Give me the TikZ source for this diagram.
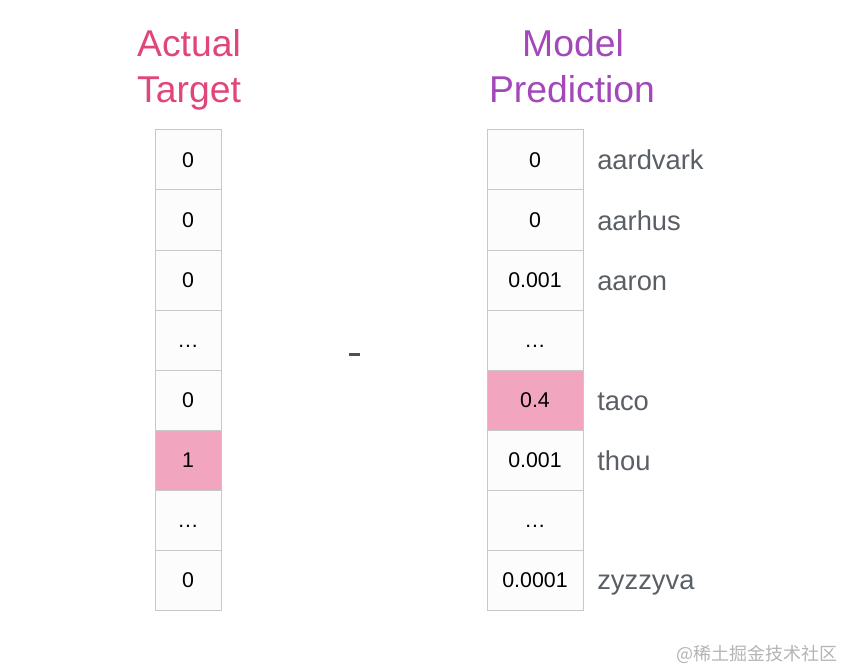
\documentclass[tikz,border=0pt]{standalone}
\usepackage{fontspec}
\setmainfont{Liberation Sans}
\newfontfamily\cjk{Noto Sans CJK SC}
\definecolor{hpink}{HTML}{E0457B}
\definecolor{hpurple}{HTML}{A347BA}
\definecolor{cellpink}{HTML}{F2A5BF}
\definecolor{cellline}{HTML}{C8C8C8}
\definecolor{cellfill}{HTML}{FCFCFC}
\definecolor{lblgray}{HTML}{5A5F66}
\definecolor{wmgray}{HTML}{B4B4B4}
\tikzset{
  px/.style={x=0.75pt,y=-0.75pt},
  lcell/.style={draw=cellline,fill=cellfill,line width=0.75pt,minimum width=49.5pt,minimum height=45pt,inner sep=0pt,font=\fontsize{16}{18}\selectfont,text=black},
  rcell/.style={lcell,minimum width=72pt},
  hot/.style={fill=cellpink},
  header/.style={font=\fontsize{28}{34}\selectfont,anchor=base,inner sep=0pt},
  word/.style={font=\fontsize{20.5}{24}\selectfont,text=lblgray,anchor=base west,inner sep=0pt}
}
\begin{document}
\begin{tikzpicture}[px]
\useasboundingbox (0,0) rectangle (845,670);
\node[header,text=hpink] (h1a) at (189,57) {Actual};
\node[header,text=hpink] (h1b) at (189,103) {Target};
\node[header,text=hpurple] (h2a) at (573,57) {Model};
\node[header,text=hpurple] (h2b) at (572,103) {Prediction};
% left column
\foreach \i/\t in {1/0,2/0,3/0,4/\vphantom{0}\dots,5/0,6/1,7/\vphantom{0}\dots,8/0}{
  \node[lcell] (l\i) at (188,130+60*\i-30) {\t};
}
\node[lcell,hot] at (l6) {1};
% right column
\foreach \i/\t in {1/0,2/0,3/0.001,4/\vphantom{0}\dots,5/0.4,6/0.001,7/\vphantom{0}\dots,8/0.0001}{
  \node[rcell] (r\i) at (535,130+60*\i-30) {\t};
}
\node[rcell,hot] at (r5) {0.4};
% words
\node[word] (w1) at (597,170) {aardvark};
\node[word] (w2) at (597,230) {aarhus};
\node[word] (w3) at (597,290) {aaron};
\node[word] (w5) at (597,410) {taco};
\node[word] (w6) at (597,470) {thou};
\node[word] (w8) at (597,589) {zyzzyva};
% minus
\fill[lblgray!85!black] (349,353) rectangle (360,356);
% watermark
\node[font=\cjk\fontsize{13.5}{15}\selectfont,text=wmgray,anchor=east,inner sep=0pt] (wm) at (838,654) {@稀土掘金技术社区};
\end{tikzpicture}
\end{document}
